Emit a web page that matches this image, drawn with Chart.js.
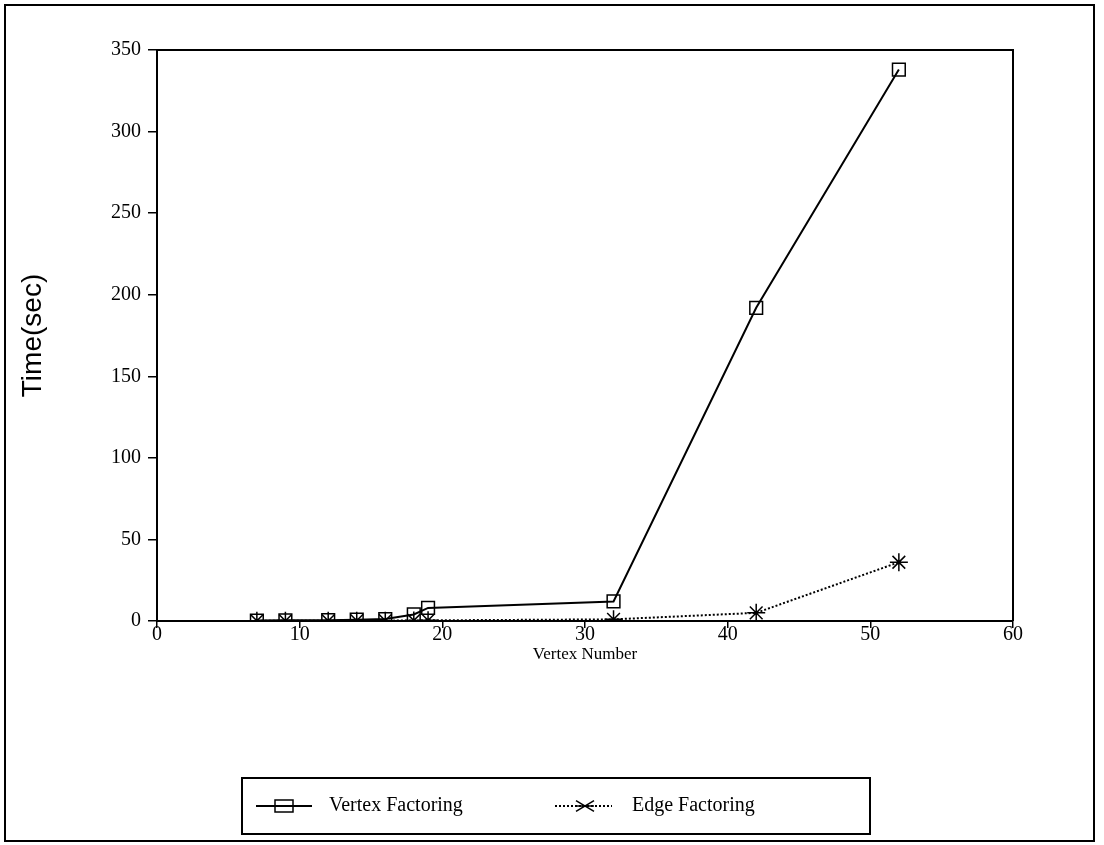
<!DOCTYPE html>
<html lang="en">

<head>
    <meta charset="UTF-8">
    <title>Vertex vs Edge Factoring</title>
    <style>
        html, body { margin: 0; padding: 0; background: #fff; }
        #wrap { width: 1104px; height: 845px; position: relative; }
    </style>
</head>

<script src="https://cdn.jsdelivr.net/npm/chart.js"></script>

<body>
    <div id="wrap">
        <canvas id="timeChart" width="1104" height="845"></canvas>
    </div>
</body>
<script>
    // vertex numbers (x) and run times in seconds
    const vertexNumbers = [7, 9, 12, 14, 16, 18, 19, 32, 42, 52];
    const vertexTimes = [0.3, 0.4, 0.5, 0.8, 1.2, 4, 8, 12, 192, 338];
    const edgeTimes = [0.1, 0.1, 0.1, 0.2, 0.2, 0.3, 0.4, 1, 5, 36];
    const xTicks = [0, 10, 20, 30, 40, 50, 60];
    const yTicks = [0, 50, 100, 150, 200, 250, 300, 350];
    const seriesNames = ['Vertex Factoring', 'Edge Factoring'];

    const toPoints = (ys) => vertexNumbers.map((x, i) => ({ x: x, y: ys[i] }));

    // outer frame + boxed legend under the plot
    const framePlugin = {
        id: 'frameAndLegend',
        afterDraw(chart) {
            const ctx = chart.ctx;
            ctx.save();
            ctx.strokeStyle = '#000';
            ctx.lineWidth = 2;
            ctx.strokeRect(5, 5, 1089, 836);

            // legend box
            ctx.strokeRect(242, 778, 628, 56);

            const y = 806;
            ctx.font = '20px "Liberation Serif"';
            ctx.fillStyle = '#000';
            ctx.textBaseline = 'middle';

            // vertex sample
            ctx.lineWidth = 2;
            ctx.setLineDash([]);
            ctx.beginPath();
            ctx.moveTo(256, y); ctx.lineTo(312, y);
            ctx.stroke();
            ctx.lineWidth = 1.5;
            ctx.strokeRect(275, y - 6, 18, 12);
            ctx.fillText(seriesNames[0], 329, y);

            // edge sample
            ctx.lineWidth = 2;
            ctx.setLineDash([2, 2]);
            ctx.beginPath();
            ctx.moveTo(555, y); ctx.lineTo(612, y);
            ctx.stroke();
            ctx.setLineDash([]);
            ctx.lineWidth = 1.5;
            const cx = 585, r = 9;
            ctx.beginPath();
            ctx.moveTo(cx - r, y - r * 0.6); ctx.lineTo(cx + r, y + r * 0.6);
            ctx.moveTo(cx - r, y + r * 0.6); ctx.lineTo(cx + r, y - r * 0.6);
            ctx.moveTo(cx - r, y); ctx.lineTo(cx + r, y);
            ctx.stroke();
            ctx.fillText(seriesNames[1], 632, y);
            ctx.restore();
        }
    };

    const plotBox = {
        id: 'plotBox',
        afterDraw(chart) {
            const a = chart.chartArea, ctx = chart.ctx;
            ctx.save();
            ctx.strokeStyle = '#000';
            ctx.lineWidth = 2;
            ctx.beginPath();
            ctx.moveTo(a.left, a.top); ctx.lineTo(a.right, a.top); ctx.lineTo(a.right, a.bottom);
            ctx.stroke();
            ctx.restore();
        }
    };

    const data = {
        datasets: [{
            label: seriesNames[0],
            data: toPoints(vertexTimes),
            borderColor: '#000',
            backgroundColor: 'rgba(0,0,0,0)',
            borderWidth: 2,
            pointStyle: 'rect',
            pointRadius: 9,
            pointBorderWidth: 1.5,
            pointBorderColor: '#000',
            pointBackgroundColor: 'rgba(0,0,0,0)',
        }, {
            label: seriesNames[1],
            data: toPoints(edgeTimes),
            borderColor: '#000',
            backgroundColor: 'rgba(0,0,0,0)',
            borderWidth: 2,
            borderDash: [2, 2],
            pointStyle: 'star',
            pointRadius: 9,
            pointBorderWidth: 1.5,
            pointBorderColor: '#000',
        }],
    };

    const config = {
        type: 'line',
        data: data,
        options: {
            responsive: false,
            animation: false,
            layout: { padding: { left: 0, top: 50, right: 1104 - 1013, bottom: 845 - 665 } },
            plugins: { legend: { display: false }, tooltip: { enabled: false } },
            scales: {
                x: {
                    type: 'linear',
                    min: 0, max: 60,
                    afterBuildTicks: (s) => { s.ticks = xTicks.map(v => ({ value: v })); },
                    afterFit: (s) => { s.height = 44; },
                    border: { color: '#000', width: 2 },
                    grid: { drawOnChartArea: false, color: '#000', tickLength: 7, lineWidth: 1.5 },
                    ticks: { color: '#000', font: { family: '"Liberation Serif"', size: 20 }, padding: -5, maxRotation: 0 },
                    title: {
                        display: true, text: 'Vertex Number', color: '#000',
                        font: { family: '"Liberation Serif"', size: 17 },
                        padding: { top: 0, bottom: 0 }
                    }
                },
                y: {
                    min: 0, max: 350,
                    afterBuildTicks: (s) => { s.ticks = yTicks.map(v => ({ value: v })); },
                    afterFit: (s) => { s.width = 157; },
                    border: { color: '#000', width: 2 },
                    grid: { drawOnChartArea: false, color: '#000', tickLength: 9, lineWidth: 1.5 },
                    ticks: { color: '#000', font: { family: '"Liberation Serif"', size: 20 }, padding: 7 },
                    title: {
                        display: true, text: 'Time(sec)', color: '#000',
                        font: { family: '"Liberation Sans"', size: 28 },
                        padding: { top: 16, bottom: 0 }
                    }
                }
            }
        },
        plugins: [framePlugin, plotBox],
    };

    const chart1 = new Chart(document.getElementById('timeChart'), config);
</script>

</html>
